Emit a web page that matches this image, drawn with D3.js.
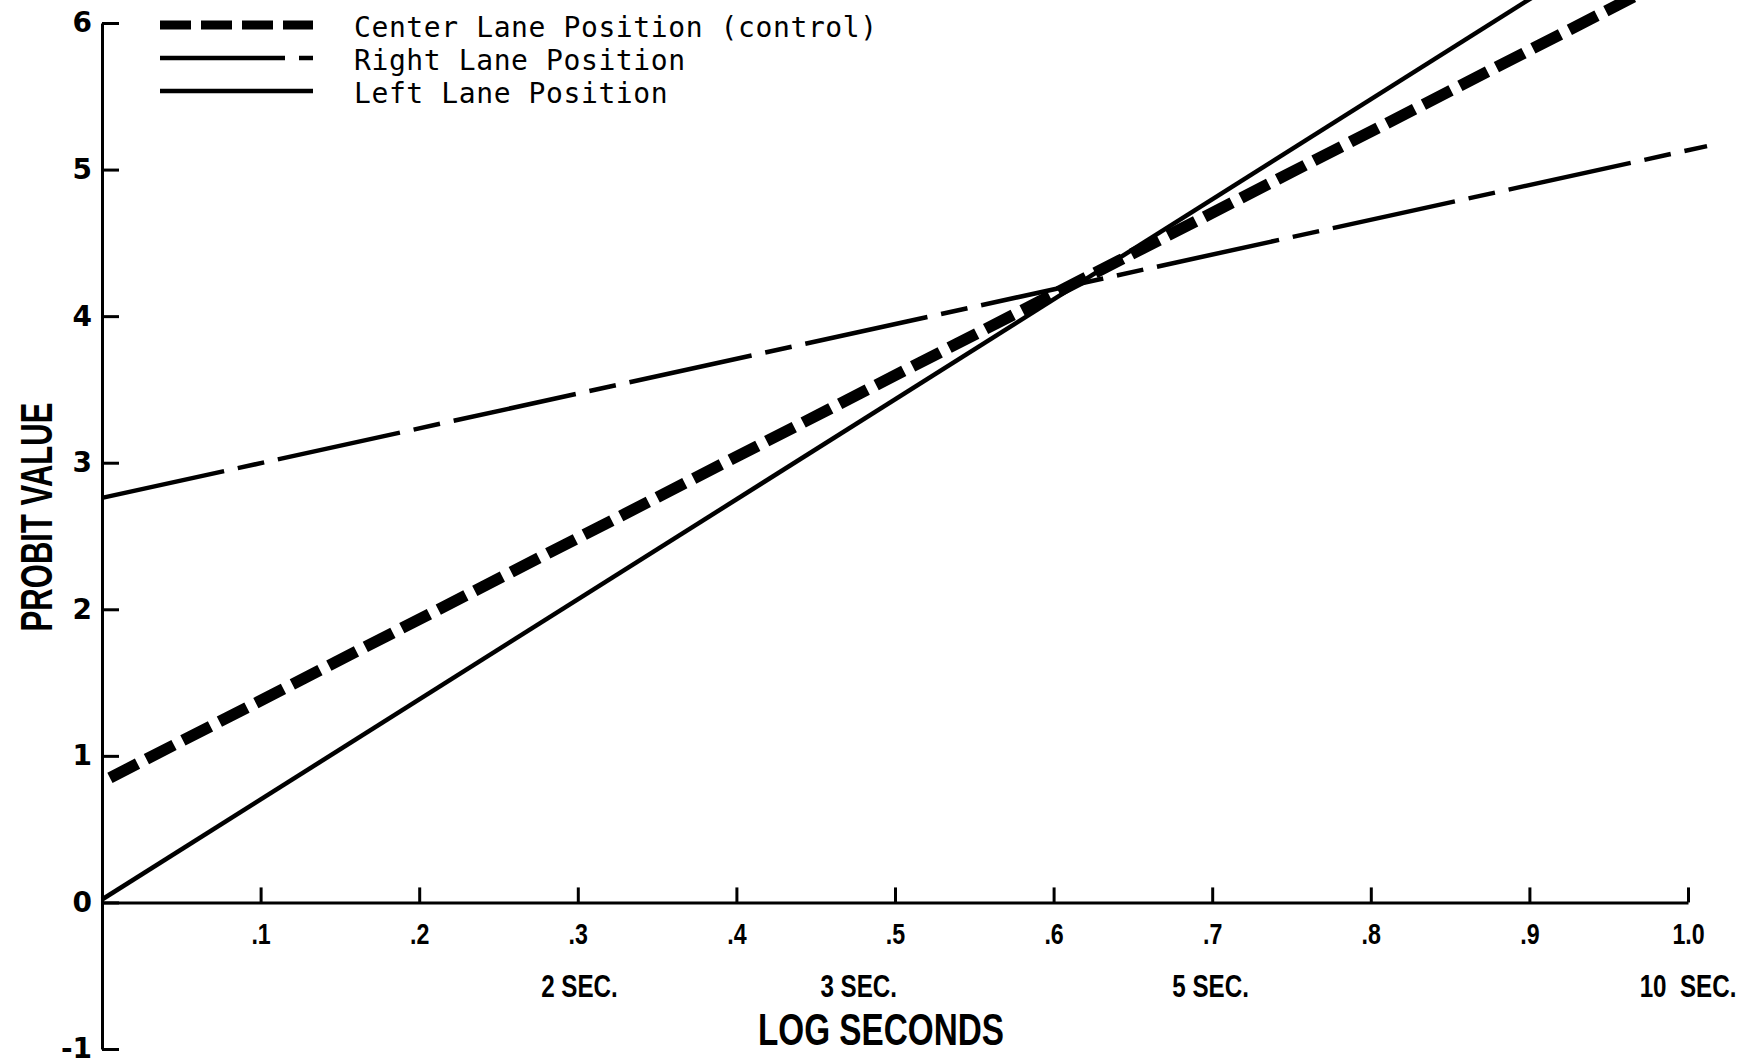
<!DOCTYPE html>
<html>
<head>
<meta charset="utf-8">
<script src="https://cdn.jsdelivr.net/npm/d3@7"></script>
<style>
    html, body { margin: 0; padding: 0; background: #fff; }
    svg { display: block; }
    .axis path, .axis line { stroke: #000; stroke-width: 3; }
    .axis text { fill: #000; }
    .cond { font-family: "Liberation Sans", Arial, sans-serif; font-weight: bold; white-space: pre; }
    .legend text { font-family: "DejaVu Sans Mono", monospace; font-size: 28px; letter-spacing: 0.6px; white-space: pre; }
</style>
</head>
<body>
<div id="chart"></div>
<script>
// fitted probit lines, [log seconds, probit value] end points
const centerLane = [[0.005, 0.85], [0.975, 6.23]];
const rightLane = [[0, 2.76], [1.012, 5.16]];
const leftLane = [[0, 0.02], [0.91, 6.23]];

const seriesNames = ['Center Lane Position (control)', 'Right Lane Position', 'Left Lane Position'];

// axis ticks
const xTicks = [0.1, 0.2, 0.3, 0.4, 0.5, 0.6, 0.7, 0.8, 0.9, 1.0];
const xTickLabels = ['.1', '.2', '.3', '.4', '.5', '.6', '.7', '.8', '.9', '1.0'];
const yTicks = [-1, 0, 1, 2, 3, 4, 5, 6];
const secondsMarks = [2, 3, 5, 10];
const secondsLabels = ['2 SEC.', '3 SEC.', '5 SEC.', '10  SEC.'];

const width = 1753;
const height = 1064;

const svg = d3.select('#chart').append('svg')
    .attr('width', width)
    .attr('height', height)
    .attr('viewBox', `0 0 ${width} ${height}`);

const x = d3.scaleLinear().domain([0, 1]).range([102, 1688]);
const y = d3.scaleLinear().domain([-1, 6]).range([1049, 23]);

/**
 * AXES
 * */

// y axis, ticks point into the plot
const yAxis = d3.axisLeft(y)
    .tickValues(yTicks)
    .tickSizeInner(-17)
    .tickSizeOuter(0)
    .tickPadding(10)
    .tickFormat(d => String(d));

const yAxisContainer = svg.append('g')
    .attr('class', 'axis')
    .attr('transform', `translate(${x(0)}, 0)`)
    .call(yAxis);
yAxisContainer.selectAll('text')
    .style('font-family', '"DejaVu Sans", sans-serif')
    .style('font-weight', 'bold')
    .style('font-size', '28px');

// x axis, ticks point up
const xAxis = d3.axisBottom(x)
    .tickValues(xTicks)
    .tickSizeInner(-15)
    .tickSizeOuter(0)
    .tickPadding(21)
    .tickFormat((d, i) => xTickLabels[i]);

const xAxisContainer = svg.append('g')
    .attr('class', 'axis')
    .attr('transform', `translate(0, ${y(0)})`)
    .call(xAxis);
xAxisContainer.selectAll('text')
    .attr('class', 'cond')
    .style('font-size', '29px')
    .attr('transform', 'scale(0.8, 1)');

// second marks under the log axis
svg.append('g')
    .selectAll('text')
    .data(secondsMarks)
    .join('text')
    .attr('class', 'cond')
    .style('font-size', '31px')
    .attr('text-anchor', 'middle')
    .attr('transform', d => `translate(${x(Math.log10(d))}, 997) scale(0.78, 1)`)
    .text((d, i) => secondsLabels[i]);

// axis titles
svg.append('text')
    .attr('class', 'cond')
    .style('font-size', '45px')
    .attr('text-anchor', 'middle')
    .attr('transform', 'translate(881, 1045) scale(0.74, 1)')
    .text('LOG SECONDS');

svg.append('text')
    .attr('class', 'cond')
    .style('font-size', '45px')
    .attr('text-anchor', 'middle')
    .attr('transform', 'translate(52, 517) rotate(-90) scale(0.69, 1)')
    .text('PROBIT VALUE');

/**
 * LINES
 * */

const lineStyles = [
    {width: 11.5, dash: '31 10'},
    {width: 4.5, dash: '125 14 27 14'},
    {width: 4.5, dash: null},
];
const series = [centerLane, rightLane, leftLane];

const line = d3.line()
    .x(d => x(d[0]))
    .y(d => y(d[1]));

svg.append('g')
    .selectAll('path')
    .data(series)
    .join('path')
    .attr('d', line)
    .attr('fill', 'none')
    .attr('stroke', '#000')
    .attr('stroke-width', (d, i) => lineStyles[i].width)
    .attr('stroke-dasharray', (d, i) => lineStyles[i].dash);

/**
 * LEGEND
 * */

const legendRows = [25, 58, 91];
const legend = svg.append('g').attr('class', 'legend');

seriesNames.forEach((name, i) => {
    legend.append('line')
        .attr('x1', 160)
        .attr('x2', 313)
        .attr('y1', legendRows[i])
        .attr('y2', legendRows[i])
        .attr('stroke', '#000')
        .attr('stroke-width', i === 0 ? 9 : 4.5)
        .attr('stroke-dasharray', lineStyles[i].dash);

    legend.append('text')
        .attr('x', 354)
        .attr('y', legendRows[i] + 12)
        .text(name);
});
</script>
</body>
</html>
